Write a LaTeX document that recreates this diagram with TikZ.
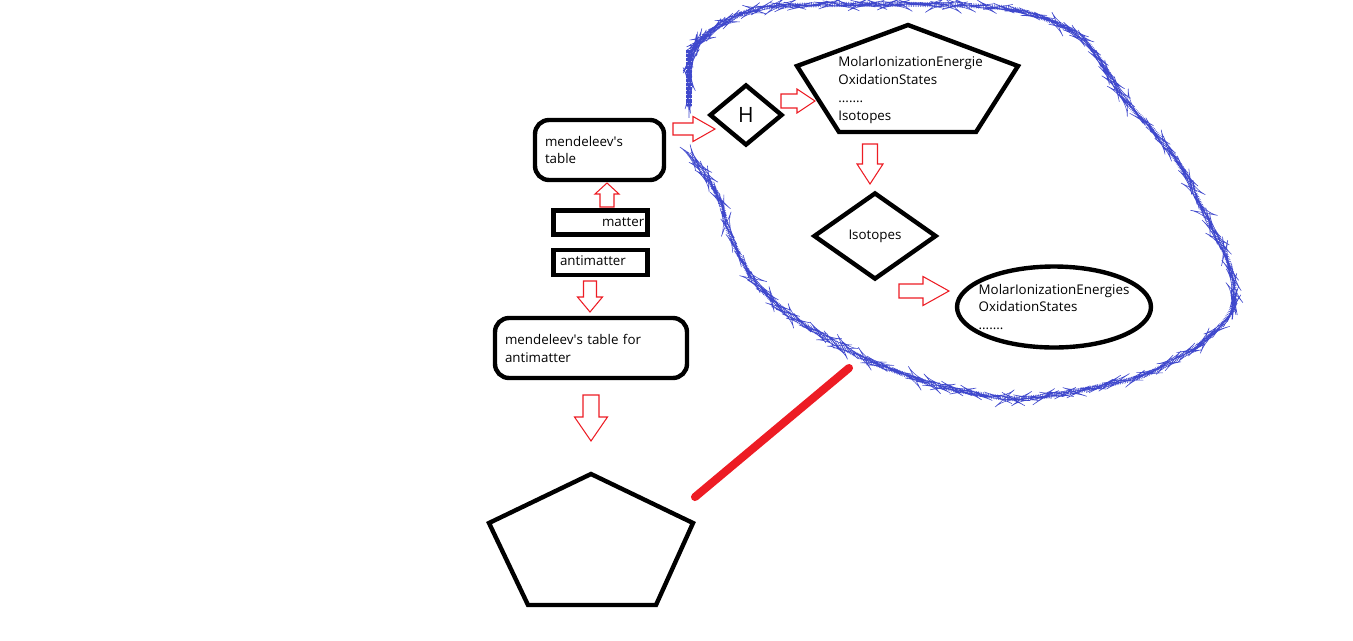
\documentclass[tikz,border=0pt]{standalone}
\usepackage{fontspec}
\setmainfont{Open Sans}
\usetikzlibrary{shapes.geometric,decorations.pathmorphing}
\definecolor{paintred}{RGB}{237,28,36}
\definecolor{paintblue}{RGB}{63,72,204}

\begin{document}
\begin{tikzpicture}[x=0.02cm,y=-0.02cm,
    outline/.style={draw=black,line width=2.5pt},
    txt/.style={font=\fontsize{7.6}{10.2}\selectfont},
    roundbox/.style={outline,txt,rounded corners=0.28cm,align=left,inner ysep=0pt},
    flatbox/.style={outline,txt,inner ysep=0pt},
    arrowline/.style={draw=paintred,line width=0.6pt,fill=white},
    spray/.style={draw=paintblue,line width=2.8pt,dash pattern=on 0.3pt off 0.7pt,rounded corners=0.3cm},
    sprayrough/.style={draw=paintblue,line width=0.3pt,rounded corners=0.3cm,decorate,
        decoration={random steps,segment length=2.4pt,amplitude=0.9pt}},
    pics/blockarrow/.style n args={4}{code={
        \draw[arrowline] (0,-#3) -- ({#1-#2},-#3) -- ({#1-#2},-#4) -- (#1,0)
            -- ({#1-#2},#4) -- ({#1-#2},#3) -- (0,#3) -- cycle;
    }}]
    \useasboundingbox (0,0) rectangle (1353,640);

    % Blue spray round the right part
    \draw[spray] (689,107) -- (689,75) -- (691,52) -- (702,37) -- (728,20) -- (754,8)
        -- (800,5) -- (880,4) -- (960,5) -- (1013,8) -- (1050,20) -- (1080,35) -- (1099,57)
        -- (1124,100) -- (1158,135) -- (1184,170) -- (1206,217) -- (1228,257) -- (1236,293)
        -- (1232,315) -- (1198,347) -- (1143,377) -- (1069,393) -- (1013,400) -- (939,387)
        -- (865,360) -- (791,317) -- (754,283) -- (728,233) -- (721,200) -- (706,175) -- (689,153);
    \draw[sprayrough] (689,107) -- (689,75) -- (691,52) -- (702,37) -- (728,20) -- (754,8)
        -- (800,5) -- (880,4) -- (960,5) -- (1013,8) -- (1050,20) -- (1080,35) -- (1099,57)
        -- (1124,100) -- (1158,135) -- (1184,170) -- (1206,217) -- (1228,257) -- (1236,293)
        -- (1232,315) -- (1198,347) -- (1143,377) -- (1069,393) -- (1013,400) -- (939,387)
        -- (865,360) -- (791,317) -- (754,283) -- (728,233) -- (721,200) -- (706,175) -- (689,153);
    \draw[draw=paintblue,line width=3.2pt,dash pattern=on 0.5pt off 0.25pt] (689,106) -- (689,50);

    % Left column of boxes
    \node[roundbox,minimum width=2.58cm,minimum height=1.2cm,text width=2.18cm,inner xsep=0.2cm]
        (table) at (599.5,150) {\raisebox{3pt}{\parbox{2.18cm}{mendeleev\textquotesingle s\\table}}};
    \node[flatbox,minimum width=1.88cm,minimum height=0.48cm,text width=1.75cm,inner xsep=0.065cm,align=right]
        (matter) at (600.5,222.5) {matter};
    \node[flatbox,minimum width=1.88cm,minimum height=0.5cm,text width=1.62cm,inner xsep=0.13cm,align=left]
        (antimatter) at (600.5,262.5) {\raisebox{2pt}{antimatter}};
    \node[roundbox,minimum width=3.84cm,minimum height=1.2cm,text width=3.44cm,inner xsep=0.2cm]
        (antitable) at (591,348) {mendeleev\textquotesingle s table for\\antimatter};

    % Bottom pentagon
    \coordinate (p1) at (591,474);
    \coordinate (p2) at (693,523);
    \coordinate (p3) at (656,605);
    \coordinate (p4) at (528,605);
    \coordinate (p5) at (489,523);
    \draw[outline,line join=miter] (p1) -- (p2) -- (p3) -- (p4) -- (p5) -- cycle;

    % Red line
    \coordinate (redA) at (695,497);
    \coordinate (redB) at (849,368);
    \draw[paintred,line width=4.6pt,line cap=round] (redA) -- (redB);

    % Inside the spray
    \node[outline,diamond,minimum width=1.46cm,minimum height=1.22cm,inner sep=0pt,
        font=\fontsize{12}{14}\selectfont] (hydrogen) at (746,115) {H};
    \coordinate (q1) at (908,25);
    \coordinate (q2) at (1018,66);
    \coordinate (q3) at (976,132);
    \coordinate (q4) at (839,132);
    \coordinate (q5) at (797,66);
    \draw[outline,line join=miter] (q1) -- (q2) -- (q3) -- (q4) -- (q5) -- cycle;
    \node[txt,align=left,anchor=west,inner sep=0pt] (props) at (838,90)
        {MolarIonizationEnergie\\OxidationStates\\.......\\Isotopes};
    \node[outline,txt,diamond,minimum width=2.46cm,minimum height=1.74cm,inner sep=0pt]
        (isotopes) at (875,236) {Isotopes\hspace{8pt}};
    \node[outline,txt,ellipse,minimum width=3.88cm,minimum height=1.62cm,inner xsep=-0.3cm,
        inner ysep=0pt,align=left] (energies) at (1054,307)
        {MolarIonizationEnergies\\OxidationStates\\.......};

    % Hollow arrows
    \pic[rotate=90] at (607,207) {blockarrow={24}{11}{7}{12}};
    \pic[rotate=-90] at (590,281) {blockarrow={31}{15}{6.5}{12.5}};
    \pic[rotate=-90] at (591,395) {blockarrow={46}{24}{8}{16.5}};
    \pic at (673,129) {blockarrow={42}{22}{6}{12.5}};
    \pic at (781,101) {blockarrow={34}{18}{7}{12}};
    \pic[rotate=-90] at (870,144) {blockarrow={40}{20}{7.5}{13}};
    \pic at (899,291) {blockarrow={50}{26}{7}{14.5}};
\end{tikzpicture}
\end{document}
